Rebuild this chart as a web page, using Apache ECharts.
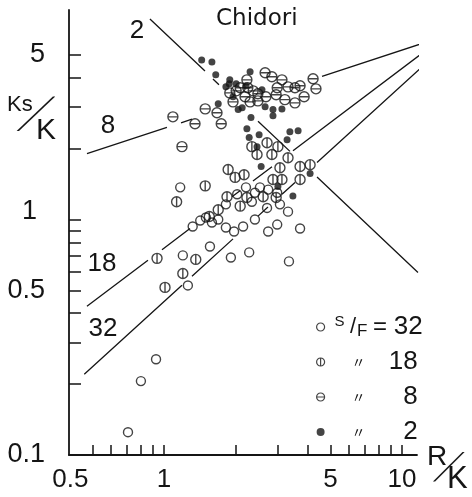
<!DOCTYPE html>
<html><head><meta charset="utf-8">
<script src="https://cdn.jsdelivr.net/npm/echarts@6/dist/echarts.min.js"></script>
<style>html,body{margin:0;padding:0;background:#fff}#c{width:472px;height:497px}</style>
</head><body><div id="c"></div>
<script>
// ---- axis ticks / labels ----
const xTicks = [0.5,0.6,0.7,0.8,0.9,1,2,3,4,5,6,7,8,9,10];
const xLabels = [0.5,1,5,10];
const yTicks = [0.2,0.3,0.4,0.5,0.6,0.7,0.8,0.9,1,2,3,4,5];
const yLabels = [0.1,0.5,1,5];

// ---- scatter data: [R/K, Ks/K] per S/F group ----
const sf32 = [[1.17,1.37],[1.32,0.934],[1.42,0.990],[1.50,1.02],[1.59,0.971],[1.69,1.00],[1.82,0.925],[1.97,0.890],[2.15,0.934],[2.21,1.37],[2.41,1.30],[2.53,1.37],[2.74,1.34],[2.99,1.30],[2.03,1.28],[1.82,1.16],[2.34,1.19],[2.71,1.12],[3.07,1.16],[3.32,1.08],[2.41,1.00],[2.99,0.952],[2.74,0.890],[3.73,0.916],[1.56,0.768],[1.20,0.704],[1.91,0.690],[2.28,0.725],[3.35,0.664],[1.26,0.525],[0.926,0.255],[0.800,0.206],[0.706,0.125]];
const sf18 = [[1.86,1.63],[1.99,1.51],[2.17,1.55],[1.49,1.39],[1.13,1.19],[1.84,1.25],[1.69,1.10],[1.55,1.03],[2.34,2.04],[2.46,1.89],[2.71,2.12],[2.84,1.89],[3.01,2.04],[3.32,1.83],[3.73,1.68],[4.11,1.71],[3.07,1.66],[2.87,1.48],[3.13,1.48],[3.73,1.48],[2.23,1.24],[2.61,1.25],[2.96,1.24],[2.09,1.14],[0.935,0.684],[1.20,0.590],[1.36,0.677],[1.01,0.515]];
const sf8 = [[1.09,2.73],[1.35,2.55],[1.49,2.95],[1.67,2.84],[1.74,2.55],[1.19,2.04],[1.89,3.45],[1.95,3.16],[2.66,4.20],[2.84,4.04],[3.13,3.92],[3.32,3.66],[3.55,3.63],[3.73,3.70],[4.23,3.96],[4.35,3.59],[2.99,3.63],[2.96,3.39],[3.22,3.23],[3.55,3.13],[3.88,3.32],[2.23,3.92],[2.09,3.63],[2.25,3.63],[2.37,3.52],[2.48,3.42],[2.68,3.32],[2.19,3.32],[2.30,3.16],[2.48,3.19],[2.01,3.52]];
const sf2 = [[1.44,4.76],[1.59,4.67],[1.65,4.12],[1.88,3.77],[1.95,3.32],[1.69,3.10],[2.13,2.98],[2.30,4.24],[1.89,3.92],[2.01,3.77],[2.58,3.56],[2.66,3.01],[2.87,2.93],[3.13,2.95],[2.87,2.76],[2.32,2.71],[2.23,2.43],[2.28,2.23],[2.51,2.29],[3.38,2.36],[3.66,2.38],[3.29,2.18],[2.46,2.04],[2.56,1.68],[3.01,1.38],[3.48,1.26],[4.11,1.57],[1.82,3.66],[2.05,2.93],[2.21,3.70]];

// ---- reference lines (visible segments) ----
const line2 = [[[0.873,7.11],[1.487,4.275]],[[1.606,3.951],[1.702,3.737]],[[2.483,2.617],[3.383,1.947]],[[4.395,1.517],[11.67,0.596]]];
const line8 = [[[0.4747,1.904],[1.029,2.464]],[[1.179,2.576],[1.311,2.669]],[[4.612,4.055],[15.16,6.022]]];
const line18 = [[[0.4747,0.4279],[0.8566,0.6718]],[[0.9808,0.7448],[1.286,0.9159]],[[1.931,1.249],[2.086,1.325]],[[2.365,1.459],[2.843,1.677]],[[3.483,1.961],[12.86,5.309]]];
const line32 = [[[0.4625,0.2203],[1.190,0.5257]],[[1.311,0.5745],[1.950,0.8276]],[[2.483,1.034],[2.735,1.130]],[[3.132,1.280],[3.551,1.437]],[[4.395,1.747],[14.58,5.267]]];

const INK = '#151515';
const FONT = '"Liberation Sans", Arial, sans-serif';
const circ = 'M0,10 A10,10 0 1 1 20,10 A10,10 0 1 1 0,10 Z';
const symPlain = 'path://' + circ;
const symVert = 'path://' + circ + ' M10,0 L10,20';
const symHoriz = 'path://' + circ + ' M0,10 L20,10';
const DEG = Math.PI / 180;

function segData(segs){
  const out = [];
  segs.forEach((s,i)=>{ if(i) out.push(['-','-']); s.forEach(p=>out.push(p)); });
  return out;
}
function lineSeries(segs){
  return {type:'line', data: segData(segs), symbol:'none', clip:false, silent:true,
    connectNulls:false, lineStyle:{color:INK, width:1.3}, z:1};
}
function scat(name, data, sym, size, filled){
  return {type:'scatter', name, data, symbol:sym, symbolSize:size, z:3,
    itemStyle: filled ? {color:INK} : {color:'rgba(255,255,255,0)', borderColor:INK, borderWidth:1.4}};
}
// a thin "/" stretched along its own length and set to a given angle
function slash(x, y, stretch, angleDeg){
  return {type:'group', x, y, rotation:(angleDeg-90)*DEG, scaleY:stretch, children:[
    {type:'text', rotation:20*DEG, style:{text:'/', font:'22px '+FONT, fill:INK, textAlign:'center', textVerticalAlign:'middle'}}
  ]};
}

const chart = echarts.init(document.getElementById('c'));
chart.setOption({
  animation:false,
  backgroundColor:'#fff',
  title:{text:'Chidori', left:216, top:8, padding:0,
    textStyle:{fontFamily:'"DejaVu Sans", sans-serif', fontSize:23, fontWeight:'normal', color:INK}},
  grid:{left:69, right:55, top:10, bottom:42, containLabel:false, outerBoundsMode:'none'},
  xAxis:{type:'log', logBase:10, min:0.399, max:11.56,
    axisLine:{lineStyle:{color:INK, width:1.8}},
    axisTick:{inside:true, length:10, customValues:xTicks, lineStyle:{color:INK, width:1.5}},
    minorTick:{show:false}, splitLine:{show:false},
    axisLabel:{customValues:xLabels, margin:12, color:INK, fontFamily:FONT, fontSize:26,
      formatter:v=> Math.abs(v-0.5)<1e-6 ? '{sh|0.5}' : String(v),
      rich:{sh:{fontFamily:FONT, fontSize:26, color:INK, padding:[0,44,0,0]}}}},
  yAxis:{type:'log', logBase:10, min:0.1, max:7.76,
    axisLine:{lineStyle:{color:INK, width:1.8}},
    axisTick:{inside:true, length:12, customValues:yTicks, lineStyle:{color:INK, width:1.5}},
    minorTick:{show:false}, splitLine:{show:false},
    axisLabel:{customValues:yLabels, margin:24, color:INK, fontFamily:FONT, fontSize:27,
      formatter:v=> Math.abs(v-1)<1e-6 ? '{up|1}' : String(v),
      rich:{up:{fontFamily:FONT, fontSize:27, color:INK, padding:[0,8,16,0]}}}},
  legend:{orient:'vertical', left:311, top:309, itemWidth:8, itemHeight:8, itemGap:9,
    selectedMode:false, data:['32','18','8','2'],
    itemStyle:{borderWidth:1.2},
    formatter: n => n==='32' ? '{s|S}{sl|/}{f|F}{eq|=}{n|32}' : '{q|〃}{n|'+n+'}',
    textStyle:{color:INK, fontFamily:FONT, fontSize:24, rich:{
      s:{fontFamily:FONT, fontSize:15, color:INK, width:20, align:'right', lineHeight:16, verticalAlign:'top'},
      sl:{fontFamily:FONT, fontSize:22, color:INK, width:7, align:'center', lineHeight:26},
      f:{fontFamily:FONT, fontSize:17, color:INK, width:11, align:'left', lineHeight:18, verticalAlign:'bottom'},
      eq:{fontFamily:FONT, fontSize:24, color:INK, width:25, align:'center', lineHeight:26},
      q:{fontFamily:'"Noto Sans CJK JP", sans-serif', fontSize:14, color:INK, width:58, align:'center', lineHeight:26},
      n:{fontFamily:FONT, fontSize:26, color:INK, width:30, align:'right', lineHeight:26}
    }}},
  graphic:[
    {type:'text', x:7, y:105, style:{text:'Ks', font:'22px '+FONT, fill:INK, textVerticalAlign:'middle'}},
    slash(32.5, 117.5, 3.0, 42),
    {type:'text', x:36, y:131, style:{text:'K', font:'30px '+FONT, fill:INK, textVerticalAlign:'middle'}},
    {type:'text', x:427, y:457, style:{text:'R', font:'28px '+FONT, fill:INK, textVerticalAlign:'middle'}},
    slash(446, 470, 2.5, 43),
    {type:'text', x:447, y:479, style:{text:'K', font:'31px '+FONT, fill:INK, textVerticalAlign:'middle'}},
    {type:'text', x:137, y:31, style:{text:'2', font:'26px '+FONT, fill:INK, textAlign:'center', textVerticalAlign:'middle'}},
    {type:'text', x:108, y:126, style:{text:'8', font:'26px '+FONT, fill:INK, textAlign:'center', textVerticalAlign:'middle'}},
    {type:'text', x:102, y:264, style:{text:'18', font:'26px '+FONT, fill:INK, textAlign:'center', textVerticalAlign:'middle'}},
    {type:'text', x:103, y:329, style:{text:'32', font:'26px '+FONT, fill:INK, textAlign:'center', textVerticalAlign:'middle'}}
  ],
  series:[
    lineSeries(line2), lineSeries(line8), lineSeries(line18), lineSeries(line32),
    scat('32', sf32, symPlain, 9, false),
    scat('18', sf18, symVert, 10, false),
    scat('8', sf8, symHoriz, 10, false),
    scat('2', sf2, 'circle', 7, true)
  ]
});
</script></body></html>
